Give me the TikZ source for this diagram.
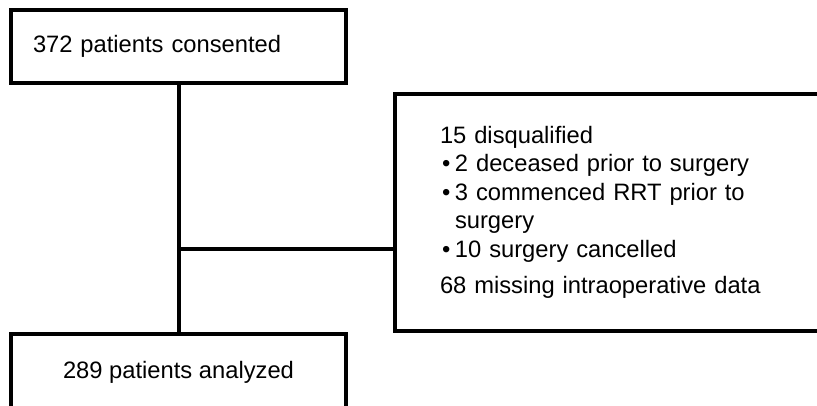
\documentclass[tikz,border=0pt]{standalone}
\usepackage{fontspec}
\setmainfont{Liberation Sans}
\usetikzlibrary{positioning,calc}
\definecolor{fcLine}{HTML}{000000}
\tikzset{
  fcnode/.style={
    draw=fcLine, line width=3pt, outer sep=0pt, minimum width=251.25pt,
    minimum height=54.75pt, font=\fontsize{17.8}{21.4}\selectfont
  },
  fcleft/.style={fcnode, anchor=north west, align=left, inner xsep=16.5pt, text width=218.25pt},
  fccenter/.style={fcnode, anchor=north west, align=center, minimum height=58pt},
  fcexcl/.style={fcnode, anchor=north west, align=left, inner xsep=33.75pt,
    text width=262.5pt, minimum height=177.75pt},
  fcline/.style={line width=3pt, fcLine}
}
\newcommand{\fcbul}{\makebox[11.25pt][l]{\hspace{1.5pt}\textbullet}}
\begin{document}
\begin{tikzpicture}[x=0.75pt, y=-0.75pt]
  \useasboundingbox (0,0) rectangle (817,405);
  \clip (0,0) rectangle (817,405);
  \node[fcleft] (consent) at (11,10) {372 patients consented};
  \node[fccenter] (analyzed) at (11,334) {289 patients analyzed};
  \node[fcexcl] (excl) at (395,94)
    {15 disqualified\\
     \fcbul 2 deceased prior to surgery\\
     \fcbul 3 commenced RRT prior to\\
     \hspace*{11.25pt}surgery\\
     \fcbul 10 surgery cancelled\\[6pt]
     68 missing intraoperative data};
  \coordinate (split) at ($(consent.south)!0.66!(analyzed.north)$);
  \draw[fcline] (consent.south) -- (analyzed.north);
  \draw[fcline] (split) -- (split -| excl.west);
\end{tikzpicture}
\end{document}
